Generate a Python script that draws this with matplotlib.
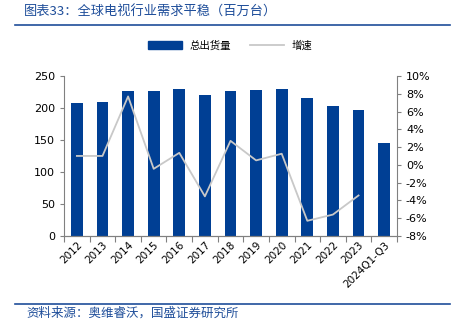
import matplotlib
matplotlib.use("Agg")
import matplotlib.pyplot as plt
from matplotlib.ticker import FuncFormatter, FixedLocator
from matplotlib.lines import Line2D

plt.rcParams['font.family'] = ['DejaVu Sans', 'Noto Sans CJK SC']

categories = ['2012', '2013', '2014', '2015', '2016', '2017', '2018', '2019',
              '2020', '2021', '2022', '2023', '2024Q1-Q3']
shipments = [208, 210, 226, 226, 229, 221, 226, 227.5, 229.5, 216, 203.5, 197, 146]
growth = [1.0, 1.0, 7.7, -0.45, 1.35, -3.55, 2.7, 0.5, 1.25, -6.3, -5.6, -3.45]

bar_color = '#003F94'
line_color = '#C8C8C8'
title_color = '#1F4E9A'

fig = plt.figure(figsize=(4.61, 3.29), dpi=100)
ax = fig.add_axes([0.139, 0.283, 0.722, 0.486])
ax2 = ax.twinx()

x = list(range(len(categories)))
ax.bar(x, shipments, width=0.46, color=bar_color, zorder=2, label='总出货量')
ax2.plot(x[:len(growth)], growth, color=line_color, lw=1.3, zorder=3, label='增速')

ax.set_xlim(-0.5, len(categories) - 0.5)
ax.set_ylim(0, 250)
ax.set_yticks(range(0, 251, 50))
ax2.set_ylim(-8, 10)
ax2.set_yticks(range(-8, 11, 2))
ax2.yaxis.set_major_formatter(FuncFormatter(lambda v, p: f'{int(v)}%'))

ax.set_xticks(x)
ax.set_xticklabels(categories, rotation=45, ha='right', rotation_mode='anchor', fontsize=7.5)
ax.tick_params(axis='x', length=0, pad=3)
ax.xaxis.set_minor_locator(FixedLocator([i - 0.5 for i in range(len(categories) + 1)]))
ax.tick_params(axis='x', which='minor', length=4, color='#808080', width=0.8)
ax.tick_params(axis='y', labelsize=8, length=3, color='#808080', width=0.8)
ax2.tick_params(axis='y', labelsize=8, length=3, color='#808080', width=0.8)

for a in (ax, ax2):
    a.spines['top'].set_visible(False)
    for s in ('left', 'right', 'bottom'):
        a.spines[s].set_color('#808080')
        a.spines[s].set_linewidth(0.8)
ax2.spines['left'].set_visible(False)
ax.spines['right'].set_visible(False)

handles = [plt.Rectangle((0, 0), 1, 1, color=bar_color),
           Line2D([0], [0], color=line_color, lw=1.3)]
fig.legend(handles, ['总出货量', '增速'], loc='center', bbox_to_anchor=(0.5, 0.862),
           ncol=2, frameon=False, handlelength=3.2, handleheight=0.8,
           columnspacing=1.8, prop={'family': ['Noto Sans CJK SC'], 'size': 7.5})

fig.text(0.052, 0.962, '图表33：全球电视行业需求平稳（百万台）', color=title_color,
         fontsize=9.5, va='center', ha='left', family=['Noto Sans CJK SC'], style='italic')
fig.add_artist(Line2D([0.033, 0.977], [0.925, 0.925], color=title_color, lw=1.2))
fig.add_artist(Line2D([0.033, 0.977], [0.076, 0.076], color=title_color, lw=1.2))
fig.text(0.058, 0.047, '资料来源：奥维睿沃，国盛证券研究所', color=title_color,
         fontsize=9, va='center', ha='left', family=['Noto Sans CJK SC'], style='italic')

fig.savefig('out.png', dpi=100)
